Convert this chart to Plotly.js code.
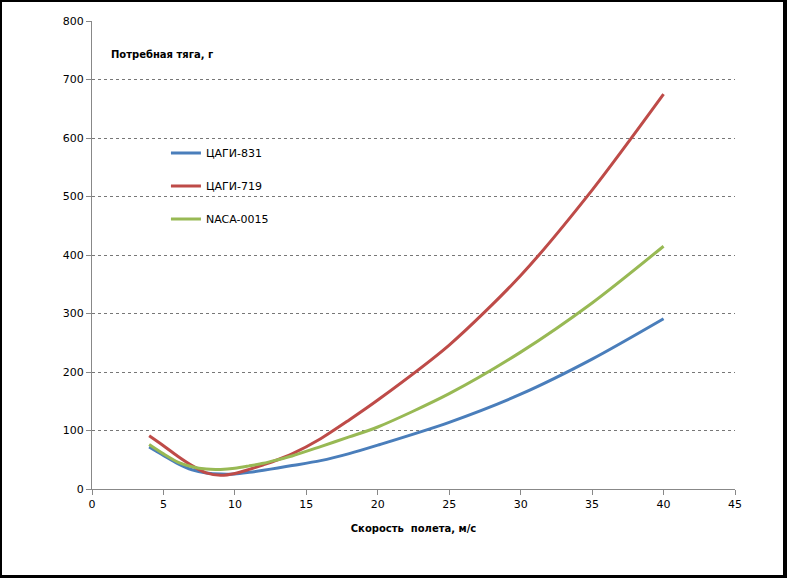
<!DOCTYPE html>
<html>
<head>
<meta charset="utf-8">
<script src="https://cdn.plot.ly/plotly-3.0.1.min.js"></script>
<style>
  html, body { margin: 0; padding: 0; background: #fff; }
  #frame { position: absolute; left: 0; top: 0; width: 787px; height: 578px; background: #000; }
  #chart { position: absolute; left: 2px; top: 2px; width: 781px; height: 573px; background: #fff; }
</style>
</head>
<body>
<div id="frame"><div id="chart"></div></div>
<script>
const speed    = [4,  5,    6,    7,  8,    9,    10,   11,   12,   13, 14,   16,   18,   20,  25,  30,  35,  40];
const tsagi831 = [72, 57.5, 43.5, 33, 27.5, 25.5, 25.7, 28.5, 32,   36, 40,   48.5, 60.5, 75,  114, 162, 222, 291];
const tsagi719 = [91, 74,   56,   40, 27.5, 23.4, 26.5, 33.5, 41.5, 50, 60,   86,   118,  152, 246, 365, 511, 675];
const naca0015 = [76, 60,   46,   38, 34,   33.5, 35.5, 39.5, 44,   50, 56.5, 72.5, 89,   106, 163, 234, 318, 415];
const seriesNames = ['ЦАГИ-831', 'ЦАГИ-719', 'NACA-0015'];
const xTitle = 'Скорость  полета, м/с';
const yTitle = 'Потребная тяга, г';

const colors = ['#4a7ebb', '#be4b48', '#98b954'];
const ys = [tsagi831, tsagi719, naca0015];

const traces = ys.map((y, i) => ({
  x: speed, y: y, type: 'scatter', mode: 'lines',
  name: seriesNames[i], legendgroup: 'g' + i,
  line: { color: colors[i], width: 3, shape: 'spline', smoothing: 0.8 }
}));

const fam = 'DejaVu Sans, Verdana, sans-serif';
const font = { family: fam, size: 11, color: '#000' };

const layout = {
  width: 781, height: 573,
  margin: { l: 90, r: 48, t: 19, b: 86 },
  paper_bgcolor: '#fff', plot_bgcolor: '#fff',
  font: font,
  showlegend: true,
  legend: {
    x: 0.115, y: 0.749, xanchor: 'left', yanchor: 'top',
    bgcolor: 'rgba(0,0,0,0)', font: { family: fam, size: 11, color: '#000' },
    traceorder: 'grouped', tracegroupgap: 14, itemwidth: 30
  },
  xaxis: {
    range: [0, 45], tick0: 0, dtick: 5, showgrid: false, zeroline: false,
    showline: true, linecolor: '#888', linewidth: 1,
    ticks: 'outside', ticklen: 5, tickcolor: '#888',
    tickfont: font,
    title: { text: xTitle, font: { family: fam, size: 10, color: '#000', weight: 'bold' }, standoff: 14 }
  },
  yaxis: {
    range: [0, 800], tick0: 0, dtick: 100, showgrid: true, gridcolor: '#777', griddash: 'dot', gridwidth: 1,
    zeroline: false, showline: true, linecolor: '#888', linewidth: 1,
    ticks: 'outside', ticklen: 5, tickcolor: '#888',
    tickfont: font
  },
  annotations: [{
    xref: 'paper', yref: 'paper', x: 0.027, y: 0.929, xanchor: 'left', yanchor: 'middle',
    text: '<b>' + yTitle + '</b>', showarrow: false,
    font: { family: fam, size: 10, color: '#000' }
  }]
};

Plotly.newPlot('chart', traces, layout, { displayModeBar: false, staticPlot: true });
</script>
</body>
</html>
